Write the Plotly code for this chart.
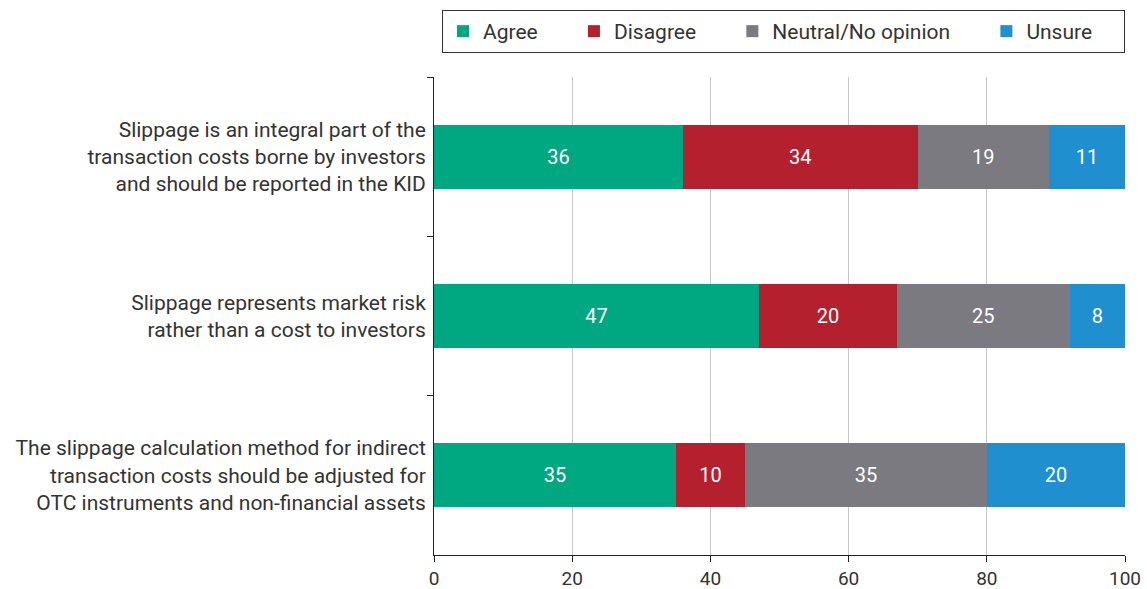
import plotly.graph_objects as go

statements = [
    "Slippage is an integral part of the<br>transaction costs borne by investors<br>and should be reported in the KID",
    "Slippage represents market risk<br>rather than a cost to investors",
    "The slippage calculation method for indirect<br>transaction costs should be adjusted for<br>OTC instruments and non-financial assets",
]
agree = [36, 47, 35]
disagree = [34, 20, 10]
neutral = [19, 25, 35]
unsure = [11, 8, 20]

series = ['Agree', 'Disagree', 'Neutral/No opinion', 'Unsure']
colors = ['#00A882', '#B5202E', '#7B7A80', '#1F8FD0']

font_family = "Roboto, sans-serif"
pad = '\u00a0' * 6

fig = go.Figure()
for i, (name, vals) in enumerate(zip(series, [agree, disagree, neutral, unsure])):
    fig.add_trace(go.Bar(
        y=statements, x=vals,
        name=name + (pad if i < 3 else '\u00a0' * 5),
        orientation='h',
        marker=dict(color=colors[i], line=dict(width=0)),
        text=vals, textposition='inside', insidetextanchor='middle',
        textfont=dict(color='white', size=20, family=font_family),
        width=0.4,
    ))

fig.update_layout(
    barmode='stack',
    width=1147, height=589,
    margin=dict(l=434, r=22, t=77, b=34),
    paper_bgcolor='white', plot_bgcolor='white',
    font=dict(family=font_family, size=21, color='#333333'),
    legend=dict(orientation='h', yref='container', xref='container',
                x=442 / 1147, xanchor='left', y=1 - 10 / 589, yanchor='top',
                bordercolor='#333333', borderwidth=1,
                font=dict(size=21), traceorder='normal'),
    uniformtext=dict(minsize=10, mode='show'),
)
fig.update_xaxes(range=[0, 100], dtick=20, showgrid=True, gridcolor='#c8c8c8',
                 zeroline=False, showline=True, linecolor='#222222',
                 ticks='outside', ticklen=6, tickcolor='#222222',
                 tickfont=dict(size=19), automargin=False)
fig.update_yaxes(autorange='reversed', showgrid=False, showline=True,
                 linecolor='#222222', ticks='outside', ticklen=6,
                 tickcolor='#222222', tickson='boundaries',
                 ticklabelstandoff=3, automargin=False)

fig.write_html("out.html", config={'displayModeBar': False},
               post_script="document.body.style.margin='0';")
